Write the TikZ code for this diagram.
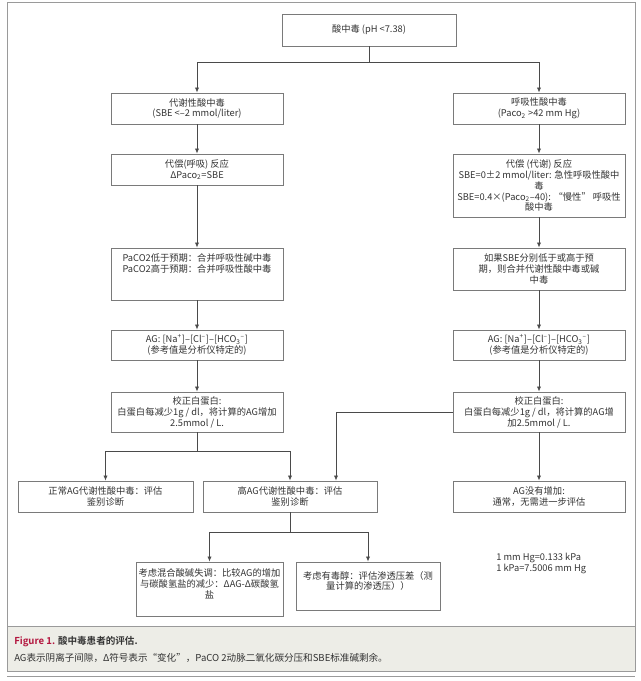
\documentclass[tikz,border=0pt]{standalone}
\usepackage{fontspec}
\setmainfont{Noto Sans CJK SC}[BoldFont={* Bold}]
\usepackage{xcolor}
\usetikzlibrary{arrows.meta}

\definecolor{cadre}{HTML}{9A9A9A}
\definecolor{boite}{HTML}{7A7A7A}
\definecolor{trait}{HTML}{4A4A4A}
\definecolor{texte}{HTML}{333333}
\definecolor{legende}{HTML}{EDEDE7}
\definecolor{figrouge}{HTML}{B3163F}

\begin{document}
\begin{tikzpicture}[
    x=0.025cm, y=-0.025cm,
    % Style des boîtes du schéma
    flownode/.style={draw=boite, line width=0.6pt, fill=white, align=center, inner sep=1pt,
        font=\fontsize{6.6}{7.8}\selectfont, text=texte, minimum width=4.3cm, minimum height=0.775cm},
    % Style pour la note des unités (sans bordure)
    notenode/.style={draw=none, align=left, inner sep=0pt, font=\fontsize{6.6}{7.8}\selectfont, text=texte},
    % Style pour la légende
    capnode/.style={draw=none, inner sep=0pt, anchor=west, font=\fontsize{6.8}{8}\selectfont, text=texte},
    % Style pour les liaisons
    linkline/.style={draw=trait, line width=0.55pt},
    arrowline/.style={linkline, -{Latex[length=3.6pt,width=3pt]}}
]
\useasboundingbox (0,0) rectangle (640,681);

% Cadre et fond de la légende
\fill[legende] (7,626) rectangle (635,671);
\draw[cadre, line width=0.7pt] (7,2) rectangle (635,671);
\draw[cadre, line width=0.7pt] (7,626) -- (635,626);
\draw[cadre, line width=0.5pt] (7,676) -- (635,676);

% Racine
\node[flownode, minimum width=4.35cm, minimum height=0.8cm] (acid) at (369,30) {酸中毒 (pH <7.38)};

% Colonne gauche (métabolique)
\node[flownode] (meta) at (197,108.5) {代谢性酸中毒\\(SBE <–2 mmol/liter)};
\node[flownode] (metacomp) at (197,169.5) {代偿(呼吸) 反应\\ΔPaco\textsubscript{2}=SBE};
\node[flownode, minimum height=1.3cm] (metamix) at (197,274)
    {PaCO2低于预期：合并呼吸性碱中毒\\PaCO2高于预期：合并呼吸性酸中毒\\\mbox{}\\\mbox{}};
\node[flownode, minimum height=0.75cm] (metaag) at (197,345)
    {AG: [Na\textsuperscript{+}]–[Cl\textsuperscript{–}]–[HCO\textsubscript{3}\textsuperscript{–}]\\(参考值是分析仪特定的)};
\node[flownode, minimum height=1cm] (metaalb) at (197,412)
    {校正白蛋白:\\白蛋白每减少1g / dl，将计算的AG增加\\2.5mmol / L.};

% Colonne droite (respiratoire)
\node[flownode] (resp) at (539,108.5) {呼吸性酸中毒\\(Paco\textsubscript{2} >42 mm Hg)};
\node[flownode, minimum height=1.575cm] (respcomp) at (539,185.5)
    {代偿 (代谢) 反应\\SBE=0±2 mmol/liter: 急性呼吸性酸中\\毒\\SBE=0.4×(Paco\textsubscript{2}–40): “慢性” 呼吸性\\酸中毒};
\node[flownode, minimum height=1.05cm] (respmix) at (539,269)
    {如果SBE分别低于或高于预\\期，则合并代谢性酸中毒或碱\\中毒};
\node[flownode, minimum height=0.75cm] (respag) at (539,345)
    {AG: [Na\textsuperscript{+}]–[Cl\textsuperscript{–}]–[HCO\textsubscript{3}\textsuperscript{–}]\\(参考值是分析仪特定的)};
\node[flownode, minimum height=1cm] (respalb) at (539,412)
    {校正白蛋白:\\白蛋白每减少1g / dl，将计算的AG增\\加2.5mmol / L.};

% Résultats du trou anionique
\node[flownode, minimum width=4.375cm] (normag) at (105.5,496.5) {正常AG代谢性酸中毒：评估\\鉴别诊断};
\node[flownode, minimum width=4.35cm] (highag) at (290,496.5) {高AG代谢性酸中毒：评估\\鉴别诊断};
\node[flownode] (noag) at (539,496.5) {AG没有增加:\\通常，无需进一步评估};

% Dernier niveau
\node[flownode, minimum width=3.675cm, minimum height=1.35cm] (mixed) at (209.5,589)
    {考虑混合酸碱失调：比较AG的增加\\与碳酸氢盐的减少：ΔAG-Δ碳酸氢\\盐\\\mbox{}};
\node[flownode, minimum width=3.6cm, minimum height=1.2cm] (alcohol) at (368,586)
    {考虑有毒醇：评估渗透压差（测\\量计算的渗透压））\\\mbox{}};
\node[notenode, anchor=west] (units) at (496,563) {1 mm Hg=0.133 kPa\\1 kPa=7.5006 mm Hg};

% Légende
\node[capnode] (cap1) at (14,642) {\textbf{\textcolor{figrouge}{Figure 1.} 酸中毒患者的评估.}};
\node[capnode] (cap2) at (14,658) {AG表示阴离子间隙，Δ符号表示“变化”，PaCO 2动脉二氧化碳分压和SBE标准碱剩余。};

% Points de branchement
\coordinate (split1) at (369,62);
\coordinate (split2) at (197,451);
\coordinate (bend) at (336,412);
\coordinate (split3) at (290,532);

% Liaisons
\draw[linkline] (acid) -- (split1);
\draw[arrowline] (split1) -| (meta);
\draw[arrowline] (split1) -| (resp);
\draw[arrowline] (meta) -- (metacomp);
\draw[arrowline] (metacomp) -- (metamix);
\draw[arrowline] (metamix) -- (metaag);
\draw[arrowline] (metaag) -- (metaalb);
\draw[arrowline] (resp) -- (respcomp);
\draw[arrowline] (respcomp) -- (respmix);
\draw[arrowline] (respmix) -- (respag);
\draw[arrowline] (respag) -- (respalb);
\draw[linkline] (metaalb) -- (split2);
\draw[arrowline] (split2) -| (normag);
\draw[arrowline] (split2) -| (highag);
\draw[linkline] (respalb) -- (bend);
\draw[arrowline] (bend) -- (bend |- highag.north);
\draw[arrowline] (respalb) -- (noag);
\draw[linkline] (highag) -- (split3);
\draw[arrowline] (split3) -| (mixed);
\draw[arrowline] (split3) -| (alcohol);

\end{tikzpicture}
\end{document}
